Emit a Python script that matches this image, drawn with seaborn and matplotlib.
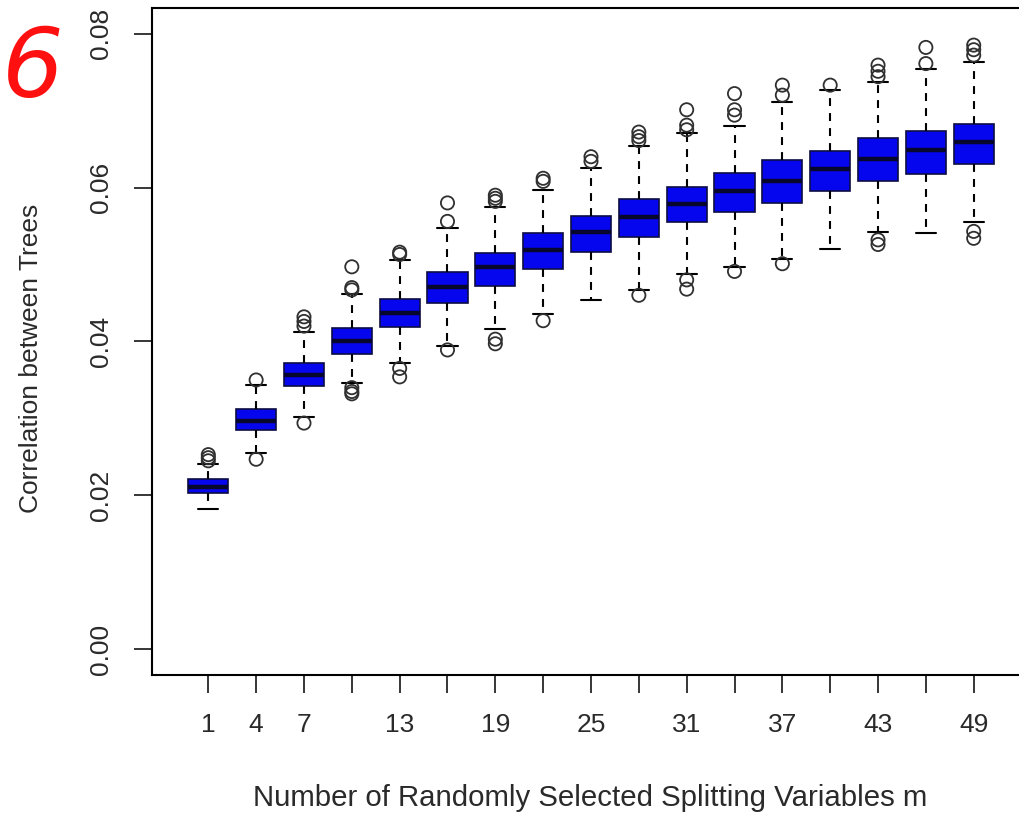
import numpy as np
import pandas as pd
import matplotlib
matplotlib.use("Agg")
import matplotlib.pyplot as plt
import seaborn as sns

# ---------------- data ----------------
m_values = [1, 4, 7, 10, 13, 16, 19, 22, 25, 28, 31, 34, 37, 40, 43, 46, 49]
x_tick_labels = ["1", "4", "7", "", "13", "", "19", "", "25", "", "31", "", "37", "", "43", "", "49"]

lower_whisker = [0.01824, 0.02555, 0.03023, 0.03457, 0.03716, 0.03940, 0.04158, 0.04353, 0.04539,
                 0.04669, 0.04877, 0.04961, 0.05068, 0.05201, 0.05426, 0.05405, 0.05548]
q1 = [0.02028, 0.02850, 0.03422, 0.03837, 0.04185, 0.04496, 0.04721, 0.04942, 0.05166,
      0.05361, 0.05548, 0.05676, 0.05795, 0.05959, 0.06085, 0.06176, 0.06306]
median = [0.02114, 0.02971, 0.03565, 0.04010, 0.04367, 0.04704, 0.04964, 0.05188, 0.05418,
          0.05613, 0.05786, 0.05951, 0.06089, 0.06237, 0.06371, 0.06487, 0.06595]
q3 = [0.02210, 0.03119, 0.03724, 0.04171, 0.04552, 0.04907, 0.05153, 0.05405, 0.05630,
      0.05847, 0.06003, 0.06195, 0.06357, 0.06478, 0.06639, 0.06738, 0.06825]
upper_whisker = [0.02408, 0.03435, 0.04127, 0.04617, 0.05059, 0.05472, 0.05751, 0.05968, 0.06250,
                 0.06543, 0.06704, 0.06797, 0.07115, 0.07267, 0.07367, 0.07536, 0.07627]

outlier_m = [1, 1, 1, 4, 4,
             7, 7, 7, 7,
             10, 10, 10, 10, 10, 10,
             13, 13, 13, 13,
             16, 16, 16,
             19, 19, 19, 19, 19,
             22, 22, 22,
             25, 25,
             28, 28, 28, 28,
             31, 31, 31, 31, 31,
             34, 34, 34, 34,
             37, 37, 37,
             40,
             43, 43, 43, 43, 43,
             46, 46,
             49, 49, 49, 49, 49]
outlier_value = [0.0245, 0.0249, 0.0253, 0.0350, 0.0247,
                 0.0432, 0.0426, 0.0420, 0.0294,
                 0.0497, 0.0470, 0.0467, 0.0340, 0.0335, 0.0332,
                 0.0516, 0.0513, 0.0365, 0.0354,
                 0.0580, 0.0556, 0.0389,
                 0.0590, 0.0586, 0.0582, 0.0403, 0.0397,
                 0.0612, 0.0608, 0.0427,
                 0.0640, 0.0634,
                 0.0672, 0.0666, 0.0661, 0.0460,
                 0.0701, 0.0681, 0.0675, 0.0480, 0.0468,
                 0.0722, 0.0701, 0.0694, 0.0491,
                 0.0733, 0.0720, 0.0501,
                 0.0733,
                 0.0759, 0.0751, 0.0744, 0.0532, 0.0526,
                 0.0782, 0.0761,
                 0.0785, 0.0779, 0.0772, 0.0543, 0.0534]

y_ticks = [0.00, 0.02, 0.04, 0.06, 0.08]
y_tick_labels = ["0.00", "0.02", "0.04", "0.06", "0.08"]

x_label = "Number of Randomly Selected Splitting Variables m"
y_label = "Correlation between Trees"

# ---------------- styling ----------------
sns.set_style("white")
plt.rcParams["font.family"] = ["Liberation Sans", "DejaVu Sans"]
text_color = "#2a2a2a"

order = [str(m) for m in m_values]
# five summary values per group -> exact quartiles / whisker ends
box_df = pd.DataFrame({
    "m": np.repeat(order, 5),
    "corr": np.column_stack([lower_whisker, q1, median, q3, upper_whisker]).ravel(),
})
out_df = pd.DataFrame({"m": [str(m) for m in outlier_m], "corr": outlier_value})

fig = plt.figure(figsize=(10.2, 8.13), dpi=100)
ax = fig.add_axes([152 / 1020, (813 - 675) / 813, 878 / 1020, 667 / 813])

sns.boxplot(
    data=box_df, x="m", y="corr", order=order, ax=ax,
    whis=np.inf, width=0.84, color="#0505EE", saturation=1,
    linecolor="#0d0d45", linewidth=1.2, showfliers=False,
    boxprops=dict(edgecolor="#0d0d45", linewidth=1.2),
    medianprops=dict(color="#07072e", linewidth=3.2),
    whiskerprops=dict(color="black", linewidth=1.5, linestyle=(0, (3.8, 3.4))),
    capprops=dict(color="black", linewidth=1.5),
)

n_before = len(ax.collections)
sns.stripplot(data=out_df, x="m", y="corr", order=order, ax=ax,
              jitter=False, size=9.5, color="black", zorder=4)
for coll in ax.collections[n_before:]:
    coll.set_facecolor("none")
    coll.set_edgecolor("#303030")
    coll.set_linewidth(1.3)

ax.set_xlim(-1.177, 17.177)
ax.set_ylim(-0.003326, 0.08332)

ax.set_xticks(range(len(order)))
ax.set_xticklabels(x_tick_labels, fontsize=19, color=text_color)
ax.set_yticks(y_ticks)
ax.set_yticklabels(y_tick_labels, fontsize=19, color=text_color, rotation=90, va="center")
ax.tick_params(axis="both", direction="out", length=13, width=1.1, color="black",
               bottom=True, left=True)
ax.tick_params(axis="x", pad=14)
ax.tick_params(axis="y", pad=15)

for side in ["left", "right", "top", "bottom"]:
    ax.spines[side].set_visible(True)
    ax.spines[side].set_color("black")
    ax.spines[side].set_linewidth(1.5)

ax.set_xlabel(x_label, fontsize=21.2, color=text_color)
ax.xaxis.set_label_coords(0.5 - (152 + 878 / 2 - 590) / 878, -0.163)
ax.set_ylabel(y_label, fontsize=19, color=text_color)
ax.yaxis.set_label_coords(-0.124, 0.475)
ax.grid(False)

fig.text(0.002, (813 - 24) / 813, "6", color="#ff1010", fontsize=70, style="italic",
         ha="left", va="top", family=["DejaVu Sans"])

fig.savefig("out.png", dpi=100)
